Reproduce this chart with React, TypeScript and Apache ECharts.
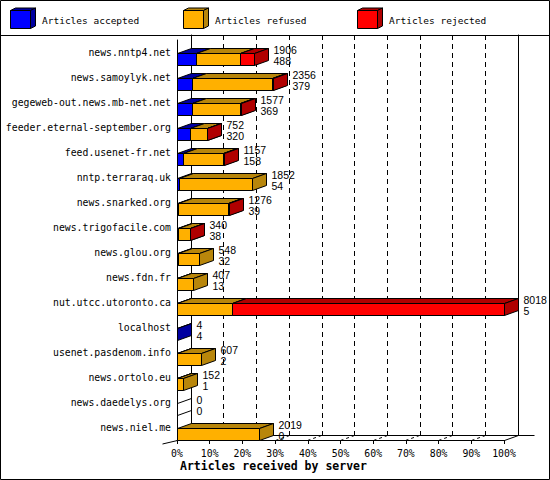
import * as echarts from "echarts";
import React, { useEffect, useRef } from "react";

// innreport style chart - articles received by server
const servers = [
  "news.nntp4.net",
  "news.samoylyk.net",
  "gegeweb-out.news.mb-net.net",
  "feeder.eternal-september.org",
  "feed.usenet-fr.net",
  "nntp.terraraq.uk",
  "news.snarked.org",
  "news.trigofacile.com",
  "news.glou.org",
  "news.fdn.fr",
  "nut.utcc.utoronto.ca",
  "localhost",
  "usenet.pasdenom.info",
  "news.ortolo.eu",
  "news.daedelys.org",
  "news.niel.me",
];
const accepted = [488, 379, 369, 320, 158, 54, 39, 38, 32, 13, 5, 4, 2, 1, 0, 0];
const refused = [1078, 1962, 1198, 422, 984, 1798, 1227, 296, 516, 394, 1361, 0, 605, 151, 0, 2019];
const rejected = [340, 15, 10, 10, 15, 0, 10, 6, 0, 0, 6652, 0, 0, 0, 0, 0];
const xTicks = [0, 10, 20, 30, 40, 50, 60, 70, 80, 90, 100];

const totals = servers.map((_, i) => accepted[i] + refused[i] + rejected[i]);
const maxTotal = Math.max(...totals);

const DX = 14;
const DY = -5;
const BAR_RATIO = 0.46;
const MONO = '"DejaVu Sans Mono", monospace';

const palette = [
  { name: "Articles accepted", front: "#0000ff", dark: "#0000a0" },
  { name: "Articles refused", front: "#ffb000", dark: "#b8860b" },
  { name: "Articles rejected", front: "#ff0000", dark: "#b00000" },
];

const snap = (v: number) => Math.round(v - 0.5) + 0.5;

const poly = (points: number[][], fill: string) => ({
  type: "polygon",
  shape: { points },
  style: { fill, stroke: "#000", lineWidth: 1 },
});

const box = (x0: number, x1: number, yTop: number, yBot: number, front: string, dark: string, dx: number, dy: number) => [
  poly([[x0, yTop], [x1, yTop], [x1, yBot], [x0, yBot]], front),
  poly([[x0, yTop], [x0 + dx, yTop + dy], [x1 + dx, yTop + dy], [x1, yTop]], dark),
  poly([[x1, yTop], [x1 + dx, yTop + dy], [x1 + dx, yBot + dy], [x1, yBot]], dark),
];

const legendGraphics = () => {
  const xs = [10, 183, 357];
  const out: any[] = [
    { type: "rect", shape: { x: 0.5, y: 0.5, width: 549, height: 479 }, style: { fill: "none", stroke: "#000", lineWidth: 1 } },
    { type: "line", shape: { x1: 0, y1: 35.5, x2: 550, y2: 35.5 }, style: { stroke: "#000", lineWidth: 1 } },
  ];
  palette.forEach((p, i) => {
    const x = xs[i] + 0.5;
    box(x, x + 20, 10.5, 28.5, p.front, p.dark, 5, -2.5).forEach((el) => out.push(el));
    out.push({
      type: "text",
      x: xs[i] + 32,
      y: 20,
      style: { text: p.name, font: `9.5px ${MONO}`, fill: "#000", verticalAlign: "middle" },
    });
  });
  return out;
};

const ArticlesChart: React.FC = () => {
  const chartRef = useRef<HTMLDivElement>(null);

  useEffect(() => {
    if (!chartRef.current) return;
    document.body.style.margin = "0";
    const chart = echarts.init(chartRef.current, undefined, { renderer: "svg" });
    const lastRow = servers.length - 1;

    chart.setOption({
      animation: false,
      backgroundColor: "#fff",
      title: {
        text: "Articles received by server",
        left: 180,
        top: 460,
        padding: 0,
        textStyle: { fontFamily: MONO, fontWeight: "bold", fontSize: 11.5, color: "#000" },
      },
      graphic: legendGraphics(),
      grid: [
        { left: 177, right: 46, top: 40, bottom: 40 },
        { left: 177 + DX, right: 46 - DX, top: 35, bottom: 40 - DY },
      ],
      xAxis: [
        {
          gridIndex: 0,
          type: "value",
          min: 0,
          max: 100,
          interval: 10,
          splitLine: { show: false },
          axisLine: { show: true, lineStyle: { color: "#000", width: 1 } },
          axisTick: { show: true, length: 4, lineStyle: { color: "#000" } },
          axisLabel: {
            color: "#000",
            fontFamily: MONO,
            fontSize: 9.8,
            margin: 8,
            formatter: (v: number) => `${v}%`,
          },
        },
        {
          gridIndex: 1,
          type: "value",
          min: 0,
          max: 100,
          interval: 10,
          axisLine: { show: false },
          axisTick: { show: false },
          axisLabel: { show: false },
          splitLine: {
            show: true,
            showMinLine: false,
            showMaxLine: false,
            lineStyle: { color: "#000", width: 1, type: [5, 4] },
          },
        },
      ],
      yAxis: [
        {
          gridIndex: 0,
          type: "category",
          inverse: true,
          data: servers,
          axisLine: { show: true, lineStyle: { color: "#000", width: 1 } },
          axisTick: { show: false },
          axisLabel: {
            color: "#000",
            fontFamily: MONO,
            fontSize: 9.8,
            margin: 6,
            verticalAlign: "middle",
            padding: [13, 0, 0, 0],
          },
        },
        {
          gridIndex: 1,
          type: "category",
          inverse: true,
          data: servers,
          axisLine: { show: true, lineStyle: { color: "#000", width: 1 } },
          axisTick: { show: false },
          axisLabel: { show: false },
        },
        {
          gridIndex: 1,
          type: "category",
          position: "right",
          inverse: true,
          data: servers,
          axisLine: { show: true, lineStyle: { color: "#000", width: 1 } },
          axisTick: { show: false },
          axisLabel: { show: false },
        },
      ],
      series: [
        {
          name: "floor",
          type: "custom",
          xAxisIndex: 0,
          yAxisIndex: 0,
          data: xTicks.map((p) => [p, lastRow]),
          encode: { x: 0, y: 1 },
          renderItem: (_params: any, api: any) => {
            const p = api.value(0);
            const band = api.size([0, 1])[1];
            const pt = api.coord([p, lastRow]);
            const x = snap(pt[0]);
            const yF = snap(pt[1] + band / 2);
            const solid = p === 0 || p === 100;
            const children: any[] = [
              {
                type: "line",
                shape: { x1: x, y1: yF, x2: x + DX, y2: yF + DY },
                style: { stroke: "#000", lineWidth: 1, lineDash: solid ? null : [3, 3] },
              },
            ];
            if (p === 0) {
              const xMax = snap(api.coord([100, lastRow])[0]);
              children.push({
                type: "line",
                shape: { x1: x - 15, y1: yF + 3.5, x2: x, y2: yF },
                style: { stroke: "#000", lineWidth: 1 },
              });
              children.push({
                type: "line",
                shape: { x1: x + DX, y1: yF + DY, x2: xMax + DX + 16, y2: yF + DY },
                style: { stroke: "#000", lineWidth: 1 },
              });
            }
            return { type: "group", children };
          },
        },
        {
          name: "Articles received",
          type: "custom",
          xAxisIndex: 0,
          yAxisIndex: 0,
          data: servers.map((_, i) => [i, accepted[i], refused[i], rejected[i]]),
          encode: { y: 0, x: 1 },
          renderItem: (_params: any, api: any) => {
            const row = api.value(0);
            const parts = [api.value(1), api.value(2), api.value(3)];
            const total = parts[0] + parts[1] + parts[2];
            const band = api.size([0, 1])[1];
            const center = api.coord([0, row]);
            const yBot = snap(center[1] + band / 2);
            const yTop = snap(center[1] + band / 2 - band * BAR_RATIO);
            const px = (v: number) => snap(api.coord([(v / maxTotal) * 100, row])[0]);
            const children: any[] = [];
            if (total === 0) {
              const x = px(0);
              [yTop, yBot].forEach((y) =>
                children.push({
                  type: "line",
                  shape: { x1: x, y1: y, x2: x + DX, y2: y + DY },
                  style: { stroke: "#000", lineWidth: 1 },
                })
              );
            } else {
              let start = 0;
              parts.forEach((v, k) => {
                if (v > 0) {
                  box(px(start), px(start + v), yTop, yBot, palette[k].front, palette[k].dark, DX, DY).forEach((el) =>
                    children.push(el)
                  );
                }
                start += v;
              });
            }
            const xr = px(total) + DX + 5;
            const font = '10.5px "Liberation Sans", Arial, sans-serif';
            children.push({
              type: "text",
              x: xr,
              y: yTop + DY + 1.5,
              style: { text: String(total), font, fill: "#000", verticalAlign: "middle" },
            });
            children.push({
              type: "text",
              x: xr,
              y: yBot - 4.5,
              style: { text: String(parts[0]), font, fill: "#000", verticalAlign: "middle" },
            });
            return { type: "group", children };
          },
        },
      ],
    });

    return () => {
      chart.dispose();
    };
  }, []);

  return <div ref={chartRef} style={{ width: 550, height: 480 }} />;
};

export default function App() {
  return <ArticlesChart />;
}
